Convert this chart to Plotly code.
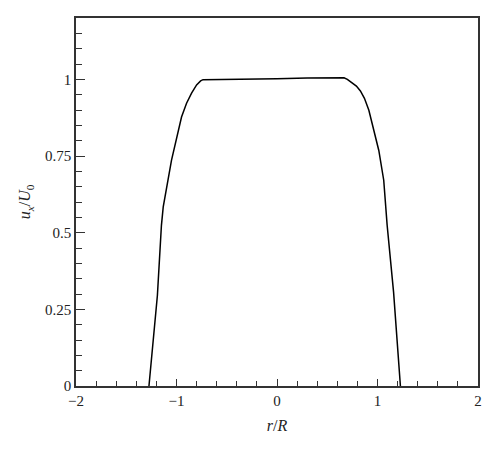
import plotly.graph_objects as go

# velocity profile
rR = [-1.274, -1.19, -1.15, -1.132, -1.05, -0.95, -0.90, -0.85, -0.80, -0.76, -0.736,
      -0.3, 0.0, 0.3, 0.667, 0.70, 0.74, 0.79, 0.83, 0.87, 0.914, 1.013, 1.062, 1.096,
      1.16, 1.228]
uxU0 = [0.0, 0.296, 0.524, 0.584, 0.736, 0.877, 0.922, 0.955, 0.982, 0.995, 0.999,
        1.0, 1.002, 1.004, 1.005, 1.0, 0.99, 0.978, 0.962, 0.938, 0.899, 0.768, 0.671,
        0.524, 0.306, 0.0]

xTickVals = [-2, -1, 0, 1, 2]
xTickText = ["\u22122", "\u22121", "0", "1", "2"]
yTickVals = [0, 0.25, 0.5, 0.75, 1]
yTickText = ["0", "0.25", "0.5", "0.75", "1"]

fig = go.Figure()
fig.add_trace(
    go.Scatter(
        x=rR,
        y=uxU0,
        mode="lines",
        line=dict(color="black", width=1.5),
        showlegend=False,
    )
)

fontFamily = "'Times New Roman', 'Liberation Serif', 'DejaVu Serif', serif"

fig.update_layout(
    width=500,
    height=450,
    margin=dict(l=68, r=30, t=8, b=72),
    plot_bgcolor="white",
    paper_bgcolor="white",
    font=dict(family=fontFamily, size=15, color="#222"),
    xaxis=dict(
        range=[-2, 2],
        tickvals=xTickVals,
        ticktext=xTickText,
        ticks="inside",
        ticklen=7,
        tickwidth=1.2,
        tickcolor="#333",
        minor=dict(dtick=0.2, ticks="inside", ticklen=5, tickwidth=1.2, tickcolor="#333"),
        showline=True,
        linecolor="#333",
        linewidth=1.5,
        mirror=True,
        showgrid=False,
        zeroline=False,
        tickfont=dict(family=fontFamily, size=15),
        title=dict(text="<i>r</i>/<i>R</i>", font=dict(family=fontFamily, size=16), standoff=12),
    ),
    yaxis=dict(
        range=[0, 1.2],
        tickvals=yTickVals,
        ticktext=yTickText,
        ticks="inside",
        ticklen=9,
        tickwidth=1.2,
        tickcolor="#333",
        minor=dict(dtick=0.05, ticks="inside", ticklen=6, tickwidth=1.2, tickcolor="#333"),
        showline=True,
        linecolor="#333",
        linewidth=1.5,
        mirror=True,
        showgrid=False,
        zeroline=False,
        tickfont=dict(family=fontFamily, size=15),
        title=dict(text="<i>u<sub>x</sub></i>/<i>U</i><sub>0</sub>", font=dict(family=fontFamily, size=16), standoff=10),
    ),
)

fig.write_html("out.html")
